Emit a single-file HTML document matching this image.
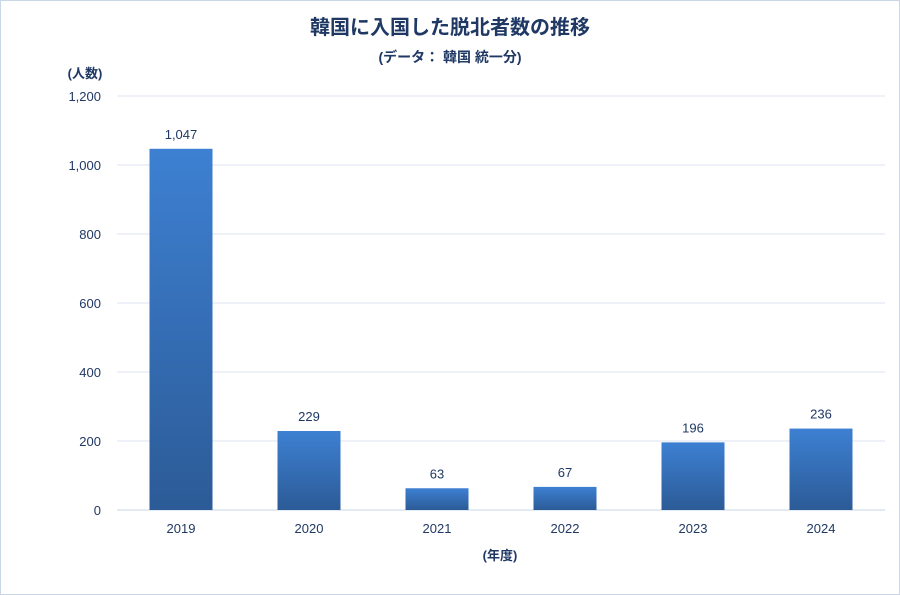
<!DOCTYPE html>
<html><head><meta charset="utf-8"><style>
html,body{margin:0;padding:0;background:#fff}
svg{display:block}
text{font-family:"Liberation Sans","Noto Sans CJK JP",sans-serif;fill:#1f3864}
</style></head><body>
<svg width="900" height="595" viewBox="0 0 900 595">
<defs><linearGradient id="g" x1="0" y1="0" x2="0" y2="1"><stop offset="0" stop-color="#3d80d2"/><stop offset="1" stop-color="#2c5b97"/></linearGradient></defs>
<rect x="0.5" y="0.5" width="899" height="594" fill="#fff" stroke="#c9d6e6"/>
<text x="450" y="34" text-anchor="middle" font-size="20" font-weight="bold">韓国に入国した脱北者数の推移</text>
<text x="450" y="62" text-anchor="middle" font-size="14" font-weight="bold">(データ：  韓国 統一分)</text>
<text x="85" y="78" text-anchor="middle" font-size="13" font-weight="bold">(人数)</text>
<text x="500" y="560" text-anchor="middle" font-size="13" font-weight="bold">(年度)</text>
<g id="grid"></g><g id="bars"></g>
</svg>
<script>
const categories=["2019","2020","2021","2022","2023","2024"];
const values=[1047,229,63,67,196,236];
const valueLabels=["1,047","229","63","67","196","236"];
const yTicks=[0,200,400,600,800,1000,1200];
const yTickLabels=["0","200","400","600","800","1,000","1,200"];
const NS="http://www.w3.org/2000/svg";
const x0=117,x1=885,y0=510,y1=96,yMax=1200;
const bw=(x1-x0)/categories.length;
function y(v){return y0-(v/yMax)*(y0-y1);}
function xc(i){return x0+bw*(i+0.5);}
function mk(t,a,p){const e=document.createElementNS(NS,t);for(const k in a)e.setAttribute(k,a[k]);p.appendChild(e);return e;}
const grid=document.getElementById('grid'),bars=document.getElementById('bars');
yTicks.forEach((v,i)=>{
 const l=mk('line',{x1:x0,x2:x1,y1:y(v),y2:y(v),stroke:i==0?'#c8d4e3':'#dde6f0','stroke-width':1},grid);
 
 
 const t=mk('text',{x:101,y:y(v)+5,'text-anchor':'end','font-size':13},grid);
 t.textContent=yTickLabels[i];
 
 
});
categories.forEach((c,i)=>{
 const w=63;
 const r=mk('rect',{x:xc(i)-w/2,y:y(values[i]),width:w,height:y0-y(values[i]),fill:'url(#g)'},bars);
 
 
 const t=mk('text',{x:xc(i),y:y(values[i])-10,'text-anchor':'middle','font-size':13},bars);
 t.textContent=valueLabels[i];
 
 
 const xl=mk('text',{x:xc(i),y:533,'text-anchor':'middle','font-size':13},bars);
 xl.textContent=c;
 
 
});
</script>
</body></html>
